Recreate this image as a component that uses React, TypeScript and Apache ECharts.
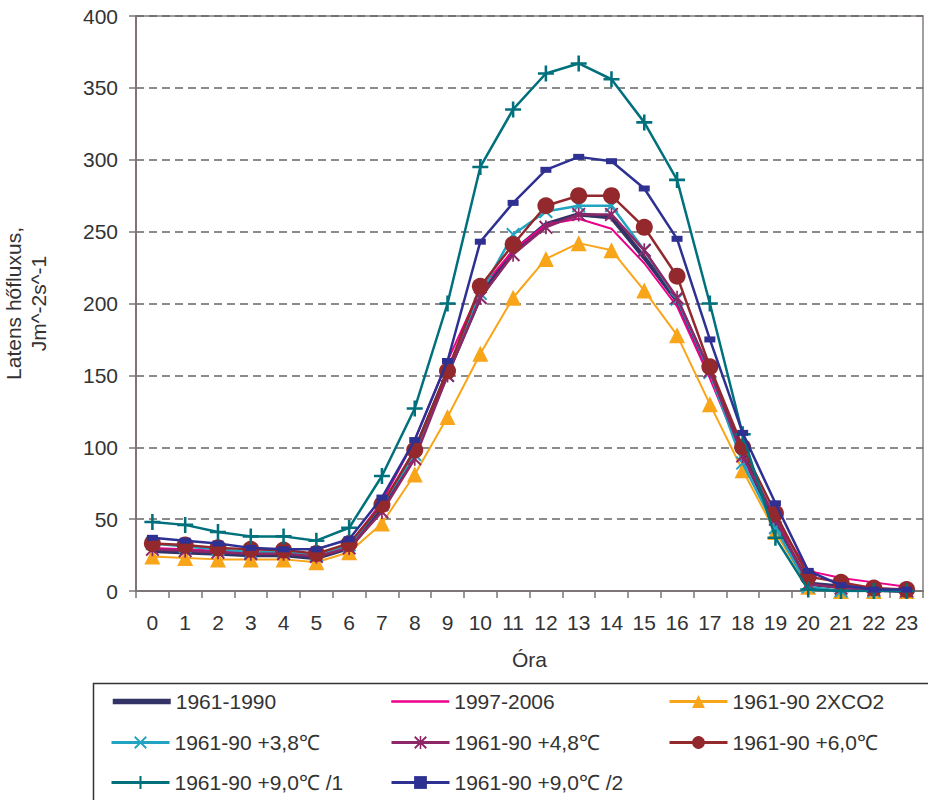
import React, { useEffect, useRef } from "react";
import * as echarts from "echarts";

const hours = ["0","1","2","3","4","5","6","7","8","9","10","11","12","13","14","15","16","17","18","19","20","21","22","23"];

const names = [
  "1961-1990",
  "1997-2006",
  "1961-90 2XCO2",
  "1961-90 +3,8℃",
  "1961-90 +4,8℃",
  "1961-90 +6,0℃",
  "1961-90 +9,0℃ /1",
  "1961-90 +9,0℃ /2",
];

const s1961_1990 = [28,27,26,25,25,23,30,57,97,152,205,236,255,262,260,232,202,152,95,48,5,3,1,0];
const s1997_2006 = [30,29,28,27,27,25,32,62,105,160,210,237,255,259,252,228,198,148,93,50,14,9,6,3];
const s2xco2 = [24,23,22,22,22,20,27,47,81,121,165,204,231,242,237,209,178,130,84,41,3,0,0,0];
const sP38 = [33,31,29,27,27,25,32,60,95,150,207,248,264,268,268,237,203,152,89,44,3,0,0,0];
const sP48 = [29,28,27,26,26,24,30,55,92,150,204,234,253,262,262,237,204,153,94,50,5,2,1,0];
const sP60 = [33,32,30,29,28.5,26,33,60,98,153,212,241,268,275,275,253,219,156,100,54,10,6,2,1];
const sP90a = [48,46,41,38,38,35,44,80,127,200,295,335,360,367,356,326,286,200,109,37,1,0,0,0];
const sP90b = [37,35,33,30,29,29,36,65,105,160,243,270,293,302,299,280,245,175,110,61,14,4,1,1];

const colors = ["#333366","#EC008C","#F9A51A","#22A3C1","#8E2768","#93282D","#00717C","#2E3192"];

const FONT = '"Liberation Sans", Arial, Helvetica, sans-serif';
const FS = 21;

const X_PATH = "path://M0 1 L1 0 L10 9 L9 10 Z M9 0 L10 1 L1 10 L0 9 Z";
const AST_PATH = "path://M0 1 L1 0 L10 9 L9 10 Z M9 0 L10 1 L1 10 L0 9 Z M4.4 0 H5.6 V10 H4.4 Z";
const PLUS_PATH = "path://M4.2 0 H5.8 V10 H4.2 Z M0 4.2 H10 V5.8 H0 Z";
const DASH_PATH = "path://M0 0 H11 V6 H0 Z";

export default function App() {
  const ref = useRef<HTMLDivElement>(null);
  useEffect(() => {
    if (!ref.current) return;
    const chart = echarts.init(ref.current, undefined, { renderer: "svg" });
    const data = [s1961_1990, s1997_2006, s2xco2, sP38, sP48, sP60, sP90a, sP90b];
    const symbols: any[] = ["none", "none", "triangle", X_PATH, AST_PATH, "circle", PLUS_PATH, DASH_PATH];
    const sizes: any[] = [0, 0, 16, 14, 14, 17, 16, [11, 6]];
    const widths = [4.5, 2, 2, 2.5, 2.5, 2.5, 2.5, 2.5];
    const series = names.map((n, i) => ({
      name: n,
      type: "line",
      data: data[i],
      symbol: symbols[i],
      symbolSize: sizes[i],
      symbolKeepAspect: false,
      showAllSymbol: true,
      color: colors[i],
      lineStyle: { color: colors[i], width: widths[i] },
      itemStyle: { color: colors[i] },
      z: 2 + i,
    }));
    const legPos = [
      [110, 691], [390, 691], [668, 691],
      [110, 732], [390, 732], [668, 732],
      [110, 772], [390, 772],
    ];
    const legends = names.map((n, i) => ({
      data: [
        i < 2
          ? {
              name: n,
              itemStyle: { opacity: 0, color: "transparent" },
              lineStyle: { width: widths[i] + (i === 0 ? 1 : 0.5), color: colors[i] },
            }
          : { name: n, lineStyle: { width: 3, color: colors[i] } },
      ],
      left: legPos[i][0],
      top: legPos[i][1],
      orient: "horizontal",
      itemWidth: 58,
      itemHeight: 16,
      itemGap: 0,
      padding: 0,
      selectedMode: false,
      textStyle: { fontSize: FS, color: "#333", fontFamily: FONT },
    }));
    chart.setOption({
      animation: false,
      backgroundColor: "#fff",
      textStyle: { fontFamily: FONT },
      grid: {
        left: 136, right: 5, top: 16, bottom: 209,
        outerBoundsMode: "none",
        containLabel: false,
        show: true, borderColor: "#857d7e", borderWidth: 1.5,
      },
      legend: legends,
      xAxis: {
        type: "category",
        data: hours,
        boundaryGap: true,
        name: "Óra",
        nameLocation: "middle",
        nameGap: 58,
        nameTextStyle: { fontSize: FS, color: "#333", fontFamily: FONT },
        axisLine: { lineStyle: { color: "#7d7576", width: 2 } },
        axisTick: { show: true, length: 7, lineStyle: { color: "#7d7576", width: 1.5 } },
        axisLabel: { fontSize: FS, color: "#333", margin: 21, fontFamily: FONT, interval: 0 },
      },
      yAxis: {
        type: "value",
        min: 0,
        max: 400,
        interval: 50,
        name: "Latens hőfluxus,\nJm^-2s^-1",
        nameLocation: "middle",
        nameGap: 85,
        nameTextStyle: { fontSize: FS, color: "#333", fontFamily: FONT, lineHeight: 25 },
        axisLine: { show: true, lineStyle: { color: "#7d7576", width: 2 } },
        axisTick: { show: true, length: 7, lineStyle: { color: "#7d7576", width: 1.5 } },
        axisLabel: { fontSize: FS, color: "#333", margin: 18, fontFamily: FONT },
        splitLine: { show: true, lineStyle: { color: "#666", width: 1.5, type: [8, 5] } },
      },
      graphic: [
        {
          type: "rect",
          left: 91,
          top: 681,
          shape: { width: 900, height: 200 },
          style: { fill: "none", stroke: "#333", lineWidth: 1.5 },
          z: 0,
        },
      ],
      series,
    });
    return () => chart.dispose();
  }, []);
  return (
    <div
      ref={ref}
      style={{ position: "fixed", left: 0, top: 0, width: 928, height: 800 }}
    />
  );
}
